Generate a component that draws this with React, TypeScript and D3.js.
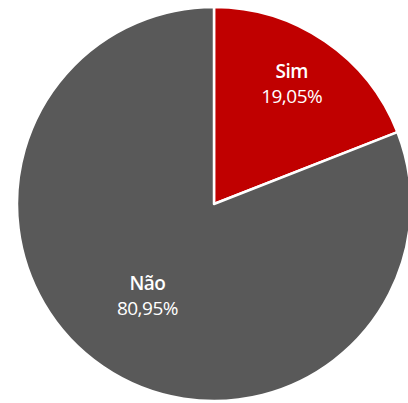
import React from "react";
import * as d3 from "d3";

const categories = ["Sim", "Não"];
const values = [19.05, 80.95];
const valueLabels = ["19,05%", "80,95%"];
const colors = ["#C00000", "#595959"];
const labelRadiusFrac = [0.7, 0.6];

export default function App() {
  const width = 408;
  const height = 403;
  const cx = 214;
  const cy = 204;
  const r = 197;

  const pie = d3.pie<number>().sort(null).value((d) => d);
  const arcs = pie(values);
  const arc = d3.arc<d3.PieArcDatum<number>>().innerRadius(0).outerRadius(r);

  return (
    <svg
      width={width}
      height={height}
      style={{ position: "absolute", left: 0, top: 0, background: "#fff" }}
    >
      <g transform={`translate(${cx},${cy})`}>
        {arcs.map((a, i) => (
          <path key={i} d={arc(a) || ""} fill={colors[i]} stroke="#fff" strokeWidth={2.5} strokeLinejoin="round" />
        ))}
        {arcs.map((a, i) => {
          const lr = r * labelRadiusFrac[i];
          const la = d3.arc<d3.PieArcDatum<number>>().innerRadius(lr).outerRadius(lr);
          const [x, y] = la.centroid(a);
          return (
            <g key={"l" + i} fill="#fff" fontFamily="'Open Sans', sans-serif" textAnchor="middle">
              <text x={x} y={y - 12} fontSize={19} fontWeight={600} letterSpacing={-0.5}>{categories[i]}</text>
              <text x={x} y={y + 13} fontSize={19} fontWeight={500} letterSpacing={-0.5}>{valueLabels[i]}</text>
            </g>
          );
        })}
      </g>
    </svg>
  );
}
